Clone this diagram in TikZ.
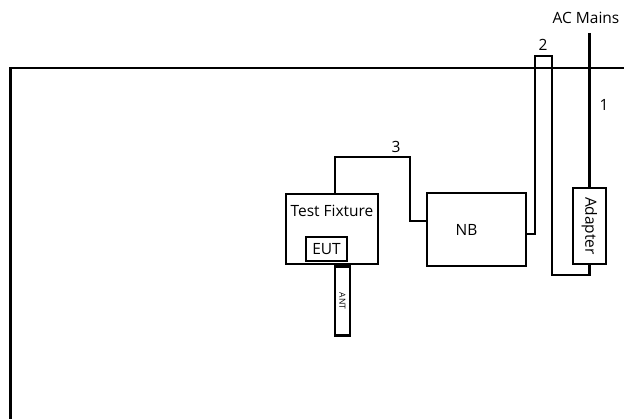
\documentclass[tikz,border=0pt]{standalone}
\usepackage{fontspec}
\setmainfont{Open Sans}
\begin{document}
\begin{tikzpicture}[x=1pt,y=-1pt,
  box/.style={draw,line width=2.5pt,inner sep=0pt,font=\fontsize{15.5}{16}\selectfont},
  cable/.style={line width=2.2pt},
  lbl/.style={inner sep=0pt,font=\fontsize{15.5}{16}\selectfont}]
\useasboundingbox (0,0) rectangle (624,419);
% frame
\draw[line width=2.6pt] (624,68) -| (10.5,419);
% boxes
\node[box,minimum width=92pt,minimum height=70pt] (tf) at (332,229) {};
\node[lbl] (tft) at (332,211) {Test Fixture};
\node[box,minimum width=41pt,minimum height=24pt] (eut) at (326.5,249) {EUT};
\node[box,minimum width=15pt,minimum height=69pt,anchor=north,font=\fontsize{8.5}{9}\selectfont] (ant) at ([xshift=10.5pt]tf.south) {\rotatebox{-90}{ANT}};
\node[box,minimum width=99pt,minimum height=73pt] (nb) at (476.5,229.5) {\hspace*{-20pt}NB};
\node[box,minimum width=33pt,minimum height=76pt] (ad) at (589.5,226) {\rotatebox{-90}{Adapter}};
% cables
\draw[cable] ([xshift=3pt]tf.north) |- (410,157) |- ([yshift=8.5pt]nb.west);
\node[lbl] (l3) at (396,147) {3};
\draw[cable] ([yshift=-4.5pt]nb.east) -| (535,56) -| (552,275) -| (ad.south);
\node[lbl] (l2) at (543,45) {2};
\coordinate (mains) at (589.5,33);
\draw[cable] (mains) -- (ad.north);
\node[lbl] (l1) at (604,105) {1};
\node[lbl] (acm) at (586,18) {AC Mains};
\end{tikzpicture}
\end{document}
